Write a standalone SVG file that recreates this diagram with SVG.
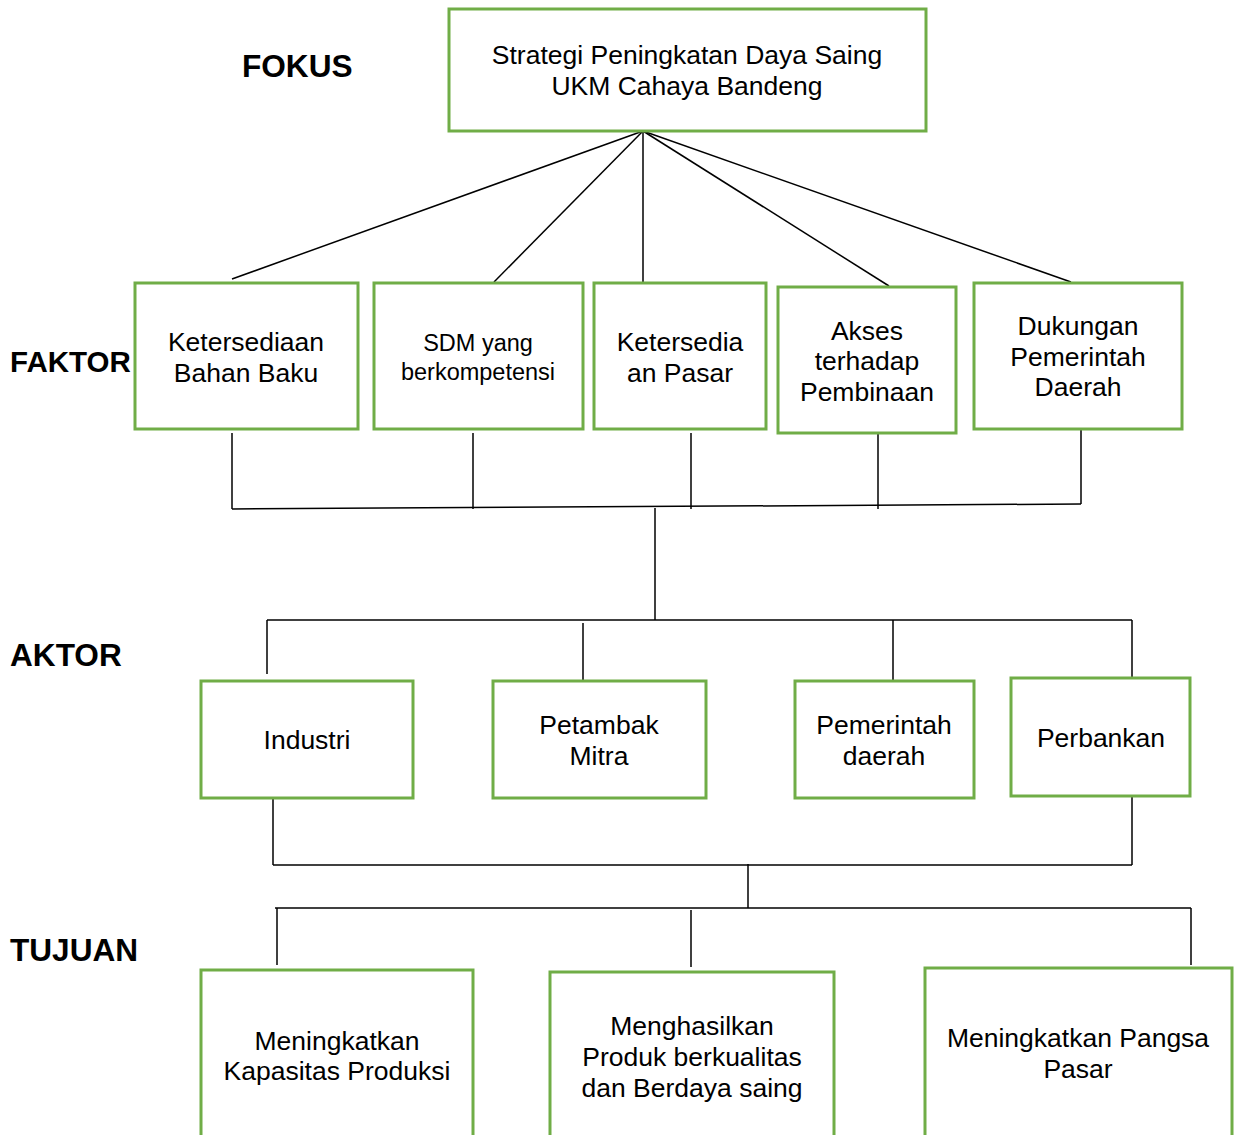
<svg xmlns="http://www.w3.org/2000/svg" width="1240" height="1135" viewBox="0 0 1240 1135">
<style>
.box{fill:#fff;stroke:#70AD47;stroke-width:3}
.t{font-family:"Liberation Sans",Arial,sans-serif;font-size:26.5px;fill:#000;text-anchor:middle}
.s{font-size:23.5px}
.lbl{font-family:"Liberation Sans",Arial,sans-serif;font-weight:bold;font-size:31.6px;fill:#000}
.c{stroke:#000;stroke-width:1.5;fill:none}
</style>
<rect width="1240" height="1135" fill="#fff"/>
<g id="labels">
<text class="lbl" x="242" y="77">FOKUS</text>
<text class="lbl" x="10" y="372" style="font-size:29.5px">FAKTOR</text>
<text class="lbl" x="10" y="666">AKTOR</text>
<text class="lbl" x="10" y="961">TUJUAN</text>
</g>
<g id="connectors">
<line class="c" x1="643" y1="131" x2="232" y2="279"/>
<line class="c" x1="643" y1="131" x2="494" y2="282"/>
<line class="c" x1="643" y1="131" x2="643" y2="282"/>
<line class="c" x1="643" y1="131" x2="889" y2="286"/>
<line class="c" x1="643" y1="131" x2="1071" y2="282"/>
<line class="c" x1="232" y1="433" x2="232" y2="509"/>
<line class="c" x1="473" y1="433" x2="473" y2="509"/>
<line class="c" x1="691" y1="433" x2="691" y2="509"/>
<line class="c" x1="878" y1="433" x2="878" y2="509"/>
<line class="c" x1="1081" y1="429" x2="1081" y2="504"/>
<line class="c" x1="232" y1="509" x2="1081" y2="504"/>
<line class="c" x1="655" y1="508" x2="655" y2="620"/>
<line class="c" x1="267" y1="620" x2="1132" y2="620"/>
<line class="c" x1="267" y1="620" x2="267" y2="674"/>
<line class="c" x1="583" y1="623" x2="583" y2="680"/>
<line class="c" x1="893" y1="620" x2="893" y2="680"/>
<line class="c" x1="1132" y1="620" x2="1132" y2="677"/>
<line class="c" x1="273" y1="797" x2="273" y2="865"/>
<line class="c" x1="1132" y1="797" x2="1132" y2="865"/>
<line class="c" x1="273" y1="865" x2="1132" y2="865"/>
<line class="c" x1="748" y1="864" x2="748" y2="908"/>
<line class="c" x1="275" y1="908" x2="1191" y2="908"/>
<line class="c" x1="277" y1="908" x2="277" y2="965"/>
<line class="c" x1="691" y1="910" x2="691" y2="967"/>
<line class="c" x1="1191" y1="908" x2="1191" y2="965"/>
</g>
<g id="fokus">
<rect class="box" x="449" y="9" width="477" height="122"/>
<text class="t" x="687" y="64">Strategi Peningkatan Daya Saing</text>
<text class="t" x="687" y="95">UKM Cahaya Bandeng</text>
</g>
<g id="f1">
<rect class="box" x="135" y="283" width="223" height="146"/>
<text class="t" x="246" y="351">Ketersediaan</text>
<text class="t" x="246" y="382">Bahan Baku</text>
</g>
<g id="f2">
<rect class="box" x="374" y="283" width="209" height="146"/>
<text class="t s" x="478" y="351">SDM yang</text>
<text class="t s" x="478" y="380">berkompetensi</text>
</g>
<g id="f3">
<rect class="box" x="594" y="283" width="172" height="146"/>
<text class="t" x="680" y="351">Ketersedia</text>
<text class="t" x="680" y="382">an Pasar</text>
</g>
<g id="f4">
<rect class="box" x="778" y="287" width="178" height="146"/>
<text class="t" x="867" y="340">Akses</text>
<text class="t" x="867" y="370">terhadap</text>
<text class="t" x="867" y="401">Pembinaan</text>
</g>
<g id="f5">
<rect class="box" x="974" y="283" width="208" height="146"/>
<text class="t" x="1078" y="335">Dukungan</text>
<text class="t" x="1078" y="366">Pemerintah</text>
<text class="t" x="1078" y="396">Daerah</text>
</g>
<g id="a1">
<rect class="box" x="201" y="681" width="212" height="117"/>
<text class="t" x="307" y="749">Industri</text>
</g>
<g id="a2">
<rect class="box" x="493" y="681" width="213" height="117"/>
<text class="t" x="599" y="734">Petambak</text>
<text class="t" x="599" y="765">Mitra</text>
</g>
<g id="a3">
<rect class="box" x="795" y="681" width="179" height="117"/>
<text class="t" x="884" y="734">Pemerintah</text>
<text class="t" x="884" y="765">daerah</text>
</g>
<g id="a4">
<rect class="box" x="1011" y="678" width="179" height="118"/>
<text class="t" x="1101" y="747">Perbankan</text>
</g>
<g id="t1">
<rect class="box" x="201" y="970" width="272" height="180"/>
<text class="t" x="337" y="1050">Meningkatkan</text>
<text class="t" x="337" y="1080">Kapasitas Produksi</text>
</g>
<g id="t2">
<rect class="box" x="550" y="972" width="284" height="180"/>
<text class="t" x="692" y="1035">Menghasilkan</text>
<text class="t" x="692" y="1066">Produk berkualitas</text>
<text class="t" x="692" y="1097">dan Berdaya saing</text>
</g>
<g id="t3">
<rect class="box" x="925" y="968" width="307" height="180"/>
<text class="t" x="1078" y="1047">Meningkatkan Pangsa</text>
<text class="t" x="1078" y="1078">Pasar</text>
</g>
</svg>
